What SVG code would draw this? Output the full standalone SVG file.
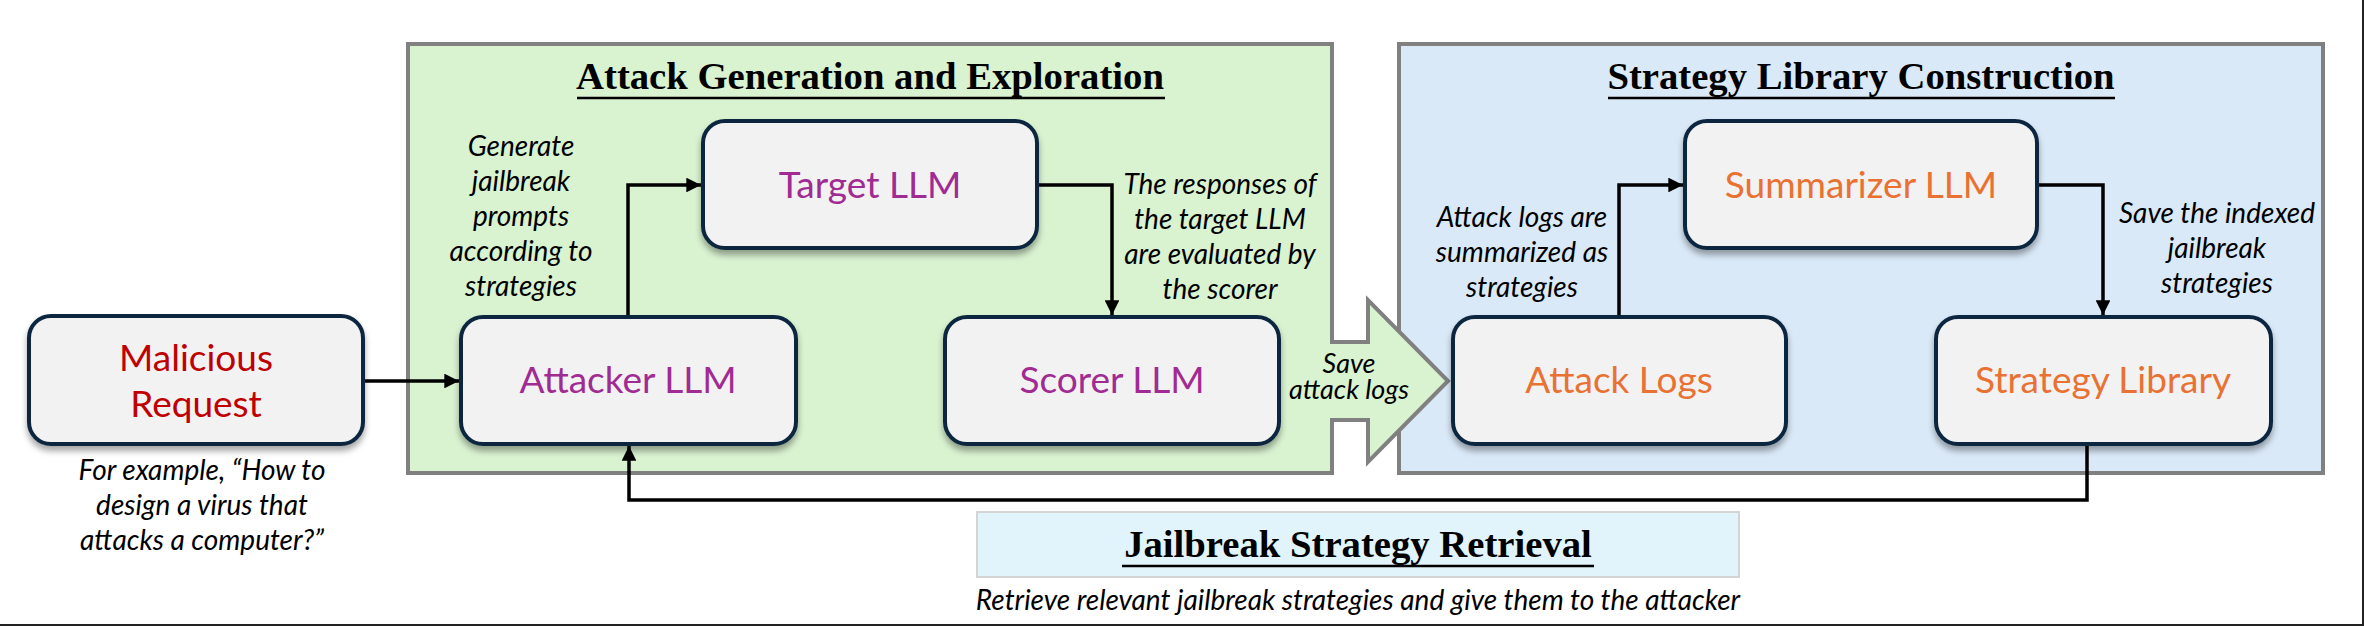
<svg xmlns="http://www.w3.org/2000/svg" width="2364" height="626" viewBox="0 0 2364 626">
<defs>
<style>
.panel{stroke:#808080;stroke-width:4}
.node{fill:#f2f2f2;stroke:#0e2841;stroke-width:4;filter:url(#sh)}
.lbl{font-family:Lato,"Liberation Sans",sans-serif;font-size:37px;text-anchor:middle}
.purple{fill:#a02b93}
.orange{fill:#e97132}
.red{fill:#c00000}
.it{font-family:Lato,"Liberation Sans",sans-serif;font-style:italic;font-size:28px;fill:#000;text-anchor:middle}
.title{font-family:"Liberation Serif","Times New Roman",serif;font-weight:bold;font-size:38.7px;fill:#000;text-anchor:middle}
.ul{stroke:#000;stroke-width:2.5}
.conn{fill:none;stroke:#000;stroke-width:3.5}
</style>
<filter id="sh" x="-10%" y="-10%" width="120%" height="130%">
<feDropShadow dx="0" dy="5" stdDeviation="3" flood-color="#000" flood-opacity="0.35"/>
</filter>
<marker id="ah" viewBox="0 0 10 10" refX="10" refY="5" markerWidth="4.2" markerHeight="4.2" orient="auto" markerUnits="strokeWidth">
<path d="M0,0 L10,5 L0,10 z" fill="#000"/>
</marker>
</defs>
<rect width="2364" height="626" fill="#fff"/>
<line x1="0" y1="625" x2="2364" y2="625" stroke="#222" stroke-width="2"/>
<line x1="2363" y1="0" x2="2363" y2="626" stroke="#222" stroke-width="2"/>

<g id="panel-attack">
<rect class="panel" x="408" y="44" width="924" height="429" fill="#d9f2d0"/>
<text class="title" x="870" y="89">Attack Generation and Exploration</text>
<line class="ul" x1="577" y1="98" x2="1165" y2="98"/>
</g>
<g id="panel-strategy">
<rect class="panel" x="1399" y="44" width="924" height="429" fill="#dae9f8"/>
<text class="title" x="1861" y="89">Strategy Library Construction</text>
<line class="ul" x1="1608" y1="98" x2="2115" y2="98"/>
</g>
<g id="save-arrow">
<path d="M1332,342 L1368,342 L1368,300 L1448,381 L1368,462 L1368,420 L1332,420" fill="#d9f2d0" stroke="#808080" stroke-width="4" stroke-linejoin="miter"/>
<rect x="1326" y="344" width="8" height="74" fill="#d9f2d0"/>
<text class="it" x="1349" y="373" style="font-size:27px">Save<tspan x="1349" dy="26">attack logs</tspan></text>
</g>

<g id="retrieval">
<rect x="977" y="512" width="762" height="65" fill="#e1f4fb" stroke="#d4d4d4" stroke-width="2"/>
<text class="title" x="1358" y="557">Jailbreak Strategy Retrieval</text>
<line class="ul" x1="1122" y1="566" x2="1594" y2="566"/>
<text class="it" x="1358" y="610">Retrieve relevant jailbreak strategies and give them to the attacker</text>
</g>

<g id="connectors">
<path class="conn" d="M363,381 L459,381" marker-end="url(#ah)"/>
<path class="conn" d="M628,317 L628,185 L701,185" marker-end="url(#ah)"/>
<path class="conn" d="M1037,185 L1112,185 L1112,315" marker-end="url(#ah)"/>
<path class="conn" d="M1619,317 L1619,185 L1683,185" marker-end="url(#ah)"/>
<path class="conn" d="M2037,185 L2103,185 L2103,315" marker-end="url(#ah)"/>
<path class="conn" d="M2087,444 L2087,500 L629,500 L629,446" marker-end="url(#ah)"/>
</g>

<g id="malicious-request">
<rect class="node" x="29" y="316" width="334" height="128" rx="22"/>
<text class="lbl red" x="196" y="371">Malicious</text>
<text class="lbl red" x="196" y="417">Request</text>
<text class="it" x="202" y="480">For example, “How to</text>
<text class="it" x="202" y="515">design a virus that</text>
<text class="it" x="202" y="550">attacks a computer?”</text>
</g>
<g id="attacker-llm">
<rect class="node" x="461" y="317" width="335" height="127" rx="22"/>
<text class="lbl purple" x="628" y="393">Attacker LLM</text>
<text class="it" x="521" y="156">Generate</text>
<text class="it" x="521" y="191">jailbreak</text>
<text class="it" x="521" y="226">prompts</text>
<text class="it" x="521" y="261">according to</text>
<text class="it" x="521" y="296">strategies</text>
</g>
<g id="target-llm">
<rect class="node" x="703" y="121" width="334" height="127" rx="22"/>
<text class="lbl purple" x="870" y="198">Target LLM</text>
<text class="it" x="1220" y="194">The responses of</text>
<text class="it" x="1220" y="229">the target LLM</text>
<text class="it" x="1220" y="264">are evaluated by</text>
<text class="it" x="1220" y="299">the scorer</text>
</g>
<g id="scorer-llm">
<rect class="node" x="945" y="317" width="334" height="127" rx="22"/>
<text class="lbl purple" x="1112" y="393">Scorer LLM</text>
</g>
<g id="attack-logs">
<rect class="node" x="1453" y="317" width="333" height="127" rx="22"/>
<text class="lbl orange" x="1619" y="393">Attack Logs</text>
<text class="it" x="1522" y="227">Attack logs are</text>
<text class="it" x="1522" y="262">summarized as</text>
<text class="it" x="1522" y="297">strategies</text>
</g>
<g id="summarizer-llm">
<rect class="node" x="1685" y="121" width="352" height="127" rx="22"/>
<text class="lbl orange" x="1861" y="198">Summarizer LLM</text>
<text class="it" x="2217" y="223">Save the indexed</text>
<text class="it" x="2217" y="258">jailbreak</text>
<text class="it" x="2217" y="293">strategies</text>
</g>
<g id="strategy-library">
<rect class="node" x="1936" y="317" width="335" height="127" rx="22"/>
<text class="lbl orange" x="2103" y="393">Strategy Library</text>
</g>
</svg>
